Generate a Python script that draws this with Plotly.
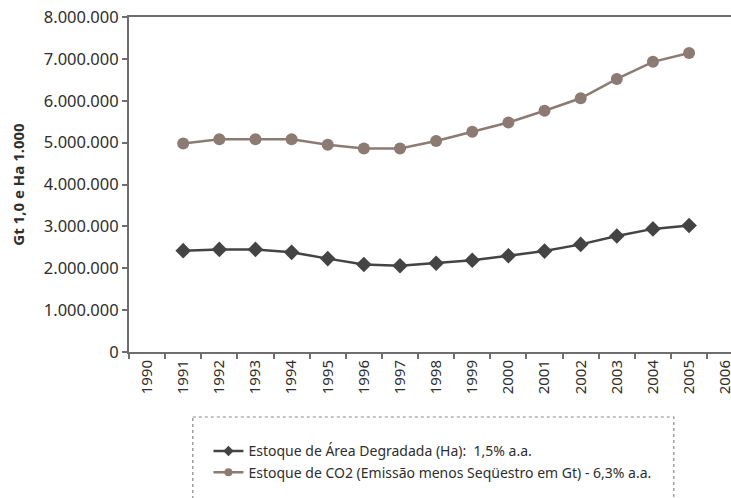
import plotly.graph_objects as go

years = list(range(1991, 2006))
area_degradada = [2420000, 2450000, 2450000, 2380000, 2230000, 2090000, 2060000, 2120000,
                  2190000, 2300000, 2410000, 2570000, 2770000, 2940000, 3020000]
estoque_co2 = [4980000, 5080000, 5080000, 5080000, 4950000, 4860000, 4860000, 5040000,
               5260000, 5480000, 5760000, 6060000, 6520000, 6930000, 7140000]
tick_years = list(range(1990, 2007))
y_ticks = [0, 1000000, 2000000, 3000000, 4000000, 5000000, 6000000, 7000000, 8000000]
y_labels = ["0", "1.000.000", "2.000.000", "3.000.000", "4.000.000",
            "5.000.000", "6.000.000", "7.000.000", "8.000.000"]
name_area = "Estoque de Área Degradada (Ha):  1,5% a.a."
name_co2 = "Estoque de CO2 (Emissão menos Seqüestro em Gt) - 6,3% a.a."

font = "Noto Sans"
axis_col = "#6e6e6e"
text_col = "#2e2e2e"
col_area = "#444444"
col_co2 = "#8c7b73"
half_years = [y - 0.5 for y in tick_years] + [2006.5]

fig = go.Figure()
fig.add_trace(go.Scatter(
    x=years, y=area_degradada, name=name_area, mode="lines+markers",
    line=dict(color=col_area, width=2.5),
    marker=dict(symbol="diamond", size=12, color=col_area), showlegend=False,
))
fig.add_trace(go.Scatter(
    x=years, y=estoque_co2, name=name_co2, mode="lines+markers",
    line=dict(color=col_co2, width=2.5),
    marker=dict(symbol="circle", size=12, color=col_co2), showlegend=False,
))
# legend entries with smaller symbols
fig.add_trace(go.Scatter(
    x=[None], y=[None], name=name_area, mode="lines+markers",
    line=dict(color=col_area, width=2.5),
    marker=dict(symbol="diamond", size=8, color=col_area),
))
fig.add_trace(go.Scatter(
    x=[None], y=[None], name=name_co2, mode="lines+markers",
    line=dict(color=col_co2, width=2.5),
    marker=dict(symbol="circle", size=8, color=col_co2),
))

fig.update_layout(
    width=731, height=498,
    margin=dict(l=129, r=0, t=17, b=146, autoexpand=False),
    paper_bgcolor="white", plot_bgcolor="white",
    font=dict(family=font, size=14, color=text_col),
    showlegend=True,
    legend=dict(x=0.132, xanchor="left", y=-0.249, yanchor="top",
                font=dict(size=14, color=text_col), bgcolor="rgba(0,0,0,0)",
                itemwidth=30, tracegroupgap=0),
    xaxis=dict(
        range=[1989.5, 2006.16], tickmode="array", tickvals=tick_years,
        ticktext=[str(y) for y in tick_years], tickangle=-90, ticks="",
        showgrid=False, zeroline=False, showline=True, linecolor=axis_col,
        linewidth=2, mirror=True, automargin=False, ticklabeloverflow="allow",
        minor=dict(tickmode="array", tickvals=half_years, ticks="outside",
                   ticklen=5, tickcolor=axis_col, tickwidth=2, showgrid=False),
        tickfont=dict(size=15, color=text_col),
    ),
    xaxis2=dict(
        overlaying="x", matches="x", anchor="y", side="bottom",
        tickmode="array", tickvals=half_years, ticks="inside", ticklen=5,
        tickcolor=axis_col, tickwidth=2, showticklabels=False,
        showgrid=False, zeroline=False, showline=False, automargin=False,
    ),
    yaxis=dict(
        range=[0, 8000000], tickmode="array", tickvals=y_ticks, ticktext=y_labels,
        ticks="outside", ticklen=5, tickcolor=axis_col, tickwidth=2,
        showgrid=False, zeroline=False, showline=True, linecolor=axis_col,
        linewidth=2, tickfont=dict(size=16.5, color=text_col), automargin=False,
        ticklabeloverflow="allow",
        title=dict(text="<b>Gt 1,0 e Ha 1.000</b>", standoff=16,
                   font=dict(size=15, color=text_col)),
    ),
    yaxis2=dict(
        overlaying="y", matches="y", anchor="x", side="left",
        tickmode="array", tickvals=y_ticks, ticks="inside", ticklen=5,
        tickcolor=axis_col, tickwidth=2, showticklabels=False,
        showgrid=False, zeroline=False, showline=False, automargin=False,
    ),
    shapes=[dict(type="rect", xref="paper", yref="paper",
                 x0=0.106, x1=0.905, y0=-0.194, y1=-0.6,
                 line=dict(color="#888888", width=1.2, dash="dot"))],
)

# drop the default page margin so the figure fills the window without scrollbars
fig.write_html(
    "out.html",
    config={"displayModeBar": False},
    post_script="document.body.style.margin='0';"
                "document.documentElement.style.overflow='hidden';",
)
